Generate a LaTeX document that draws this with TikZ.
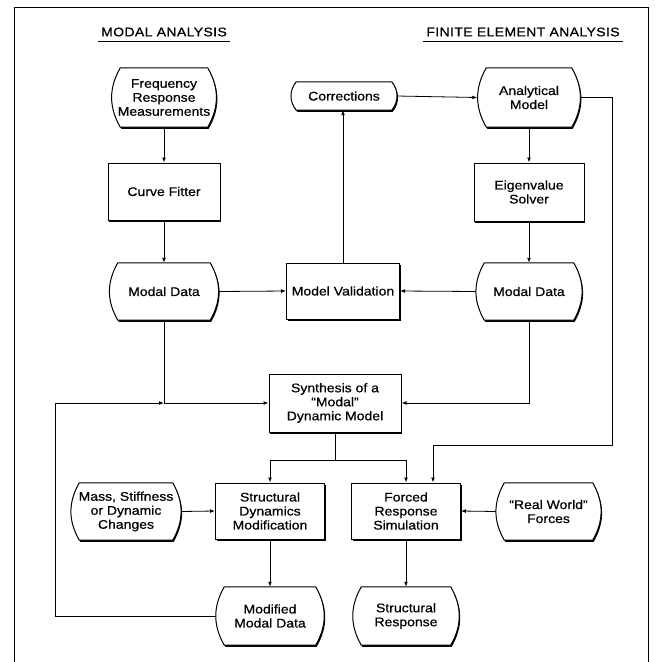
\documentclass[tikz,border=0pt]{standalone}
\usepackage{fontspec}
\setmainfont{Liberation Sans}[FakeStretch=1.12, FakeBold=0.6]
\usetikzlibrary{arrows.meta,shadows,backgrounds}

\begin{document}
\begin{tikzpicture}[x=1pt,y=-1pt,
    every node/.style={font=\fontsize{12.5}{14}\selectfont, align=center, inner sep=0pt},
    box/.style={draw, line width=1pt, fill=white,
        drop shadow={shadow xshift=1pt, shadow yshift=-1.6pt, opacity=1, fill=black}},
    dataline/.style={draw, line width=1pt, fill=white,
        drop shadow={shadow xshift=1pt, shadow yshift=-1.6pt, opacity=1, fill=black}},
    conn/.style={line width=0.8pt},
    arrow/.style={conn, -{Latex[length=5pt,width=3.8pt]}},
    heading/.style={font=\fontsize{12.5}{14}\selectfont\addfontfeatures{LetterSpace=3},
        inner xsep=3pt, inner ysep=5pt}]
    \useasboundingbox (0,0) rectangle (654,662);

    % Frame
    \draw[line width=1pt] (14,662) -- (14,7) -- (648,7) -- (648,662);

    % Column headings
    \node[heading] (headL) at (164,32) {MODAL ANALYSIS};
    \node[heading] (headR) at (523,32) {FINITE ELEMENT ANALYSIS};
    \draw[line width=0.9pt] (headL.south west) -- (headL.south east);
    \draw[line width=0.9pt] (headR.south west) -- (headR.south east);

    % Modal analysis column
    \node[minimum width=105pt, minimum height=59pt] (freq) at (164,97.5) {Frequency\\Response\\Measurements};
    \node[box, minimum width=112pt, minimum height=57pt] (fitter) at (164,191.5) {Curve Fitter};
    \node[minimum width=109pt, minimum height=57pt] (mdataL) at (164,291.5) {Modal Data};

    % Validation loop
    \node[minimum width=105pt, minimum height=28pt] (corr) at (344,96) {Corrections};
    \node[box, minimum width=113pt, minimum height=56pt] (valid) at (343,291) {Model Validation};

    % Finite element column
    \node[minimum width=103pt, minimum height=59pt] (anamodel) at (529,97.5) {Analytical\\Model};
    \node[box, minimum width=110pt, minimum height=58pt] (eigen) at (529,192) {Eigenvalue\\Solver};
    \node[minimum width=106pt, minimum height=57pt] (mdataR) at (529,291.5) {Modal Data};

    % Synthesis
    \node[box, minimum width=132pt, minimum height=58pt] (synth) at (335,403) {Synthesis of a\\“Modal”\\Dynamic Model};

    % Bottom rows
    \node[minimum width=110pt, minimum height=57pt] (mass) at (126,511.5) {Mass, Stiffness\\or Dynamic\\Changes};
    \node[box, minimum width=109pt, minimum height=56pt] (sdm) at (270,511) {Structural\\Dynamics\\Modification};
    \node[box, minimum width=109pt, minimum height=56pt] (frs) at (406,511) {Forced\\Response\\Simulation};
    \node[minimum width=105pt, minimum height=57pt] (realw) at (548.5,511.5) {“Real World”\\Forces};
    \node[minimum width=108pt, minimum height=58pt] (modmd) at (270,616) {Modified\\Modal Data};
    \node[minimum width=106pt, minimum height=58pt] (sresp) at (406,616) {Structural\\Response};

    % Data outlines with curved sides
    \begin{scope}[on background layer]
        \foreach \n/\b/\a in {freq/9/30, mdataL/8.5/30, corr/5/40, anamodel/9/30, mdataR/8.5/30,
                              mass/8.5/30, realw/8.5/30, modmd/8.5/30, sresp/8.5/30} {
            \draw[dataline] ([xshift=\b pt]\n.north west) to[bend right=\a] ([xshift=\b pt]\n.south west)
                -- ([xshift=-\b pt]\n.south east) to[bend right=\a] ([xshift=-\b pt]\n.north east) -- cycle;
        }
    \end{scope}

    % Connectors
    \draw[arrow] (freq.south) -- (fitter.north);
    \draw[arrow] (fitter.south) -- (mdataL.north);
    \draw[arrow] (anamodel.south) -- (eigen.north);
    \draw[arrow] (eigen.south) -- (mdataR.north);
    \draw[arrow] (mdataL.east) -- (valid.west);
    \draw[arrow] (mdataR.west) -- (valid.east);
    \draw[arrow] (valid.north) -- (valid.north |- corr.south);
    \draw[arrow] (corr.east) -- (anamodel.west);

    % Into the synthesis
    \coordinate (join) at (mdataL.south |- synth.west);
    \draw[arrow] (mdataL.south) |- (synth.west);
    \draw[arrow] (mdataR.south) |- (synth.east);

    % Analytical model straight to the forced response
    \coordinate (sideR) at (612,445);
    \draw[arrow] (anamodel.east) -| (sideR) -| ([xshift=27pt]frs.north);

    % Split below the synthesis
    \draw[conn] (synth.south) -- ++(0,28) coordinate (split);
    \draw[arrow] (split) -| (sdm.north);
    \draw[arrow] (split) -| (frs.north);

    \draw[arrow] (mass.east) -- (sdm.west);
    \draw[arrow] (realw.west) -- (frs.east);
    \draw[arrow] (sdm.south) -- (modmd.north);
    \draw[arrow] (frs.south) -- (sresp.north);

    % Feedback of the modified data
    \coordinate (sideL) at (55,403);
    \draw[arrow] (modmd.west) -| (sideL) -- (join);

\end{tikzpicture}
\end{document}
